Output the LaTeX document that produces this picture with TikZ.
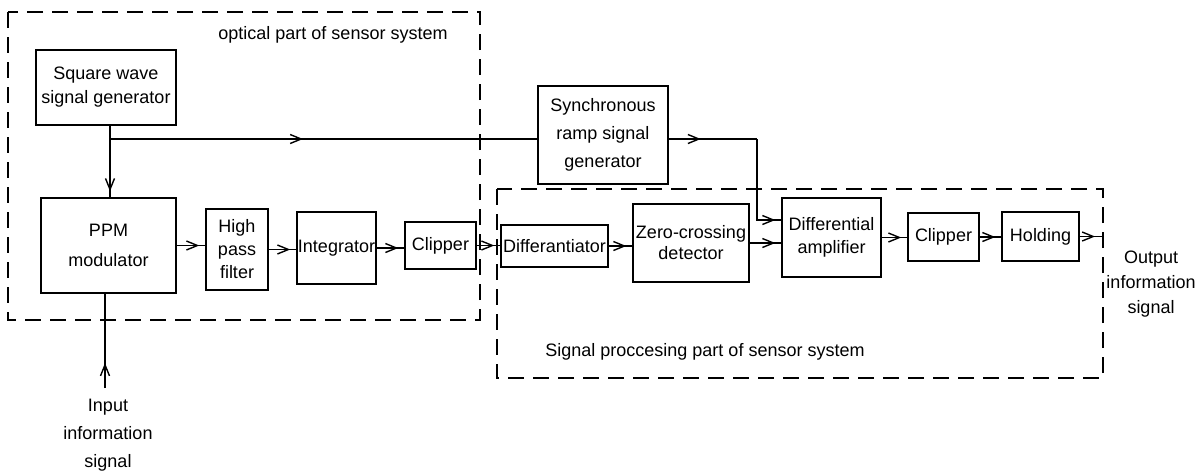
\documentclass[tikz,border=0pt]{standalone}
\usepackage{fontspec}
\setmainfont{Liberation Sans}
\usetikzlibrary{arrows.meta,decorations.markings}
\tikzset{
  txt/.style={font=\fontsize{18}{24}\selectfont},
  blk/.style={draw, line width=1.5pt, inner sep=0pt, align=center, txt},
  ln/.style={line width=1.5pt},
  tipmark/.style={postaction={decorate}, decoration={markings,
     mark=at position #1 with {\arrow{Straight Barb[length=11pt,width=9pt,line width=1.4pt]}}}},
  flow/.style={ln, tipmark=-6pt},
  zone/.style={line width=1.5pt, dash pattern=on 16pt off 9pt},
  lbl/.style={txt, align=center, inner sep=0pt}
}
\begin{document}
\begin{tikzpicture}[x=1pt,y=-1pt]
\useasboundingbox (0,0) rectangle (1198,475);
% zones
\draw[zone] (8,12) rectangle (480,320);
\draw[zone] (497,189) rectangle (1103,378);
\node[lbl] (optlabel) at (333,35) {optical part of sensor system};
\node[lbl] (siglabel) at (705,352) {Signal proccesing part of sensor system};
% blocks
\node[blk, minimum width=140pt, minimum height=75pt] (sq) at (106,87.5) {Square wave\\signal generator};
\node[blk, minimum width=135pt, minimum height=95pt, font=\fontsize{18}{30}\selectfont] (ppm) at (108.5,245.5) {PPM\\modulator};
\node[blk, minimum width=62pt, minimum height=81pt, font=\fontsize{18}{23}\selectfont] (hpf) at (237,249.5) {High\\pass\\filter};
\node[blk, minimum width=79pt, minimum height=72pt] (integ) at (336.5,248) {Integrator};
\node[blk, minimum width=71pt, minimum height=47pt] (clipa) at (440.5,245.5) {Clipper};
\node[blk, minimum width=130pt, minimum height=98pt, font=\fontsize{18}{28}\selectfont] (sync) at (603,135) {Synchronous\\ramp signal\\generator};
\node[blk, minimum width=107pt, minimum height=42pt] (diffr) at (554.5,246) {Differantiator};
\node[blk, minimum width=116pt, minimum height=78pt, font=\fontsize{18}{21}\selectfont] (zc) at (691,243) {Zero-crossing\\detector};
\node[blk, minimum width=99pt, minimum height=79pt, font=\fontsize{18}{23}\selectfont] (da) at (831.5,237.5) {Differential\\amplifier};
\node[blk, minimum width=71pt, minimum height=48pt] (clipb) at (943.5,237) {Clipper};
\node[blk, minimum width=77pt, minimum height=49pt] (hold) at (1040.5,236.5) {Holding};
% input / output labels
\node[lbl, font=\fontsize{18}{28}\selectfont] (inlabel) at (108,435) {Input\\information\\signal};
\node[lbl, font=\fontsize{18}{25}\selectfont] (outlabel) at (1151,284) {Output\\information\\signal};
% connectors
\coordinate (br) at (110,139);
\draw[flow] (br |- sq.south) -- (br |- ppm.north);
\draw[ln, tipmark=193pt] (br) -- (br -| sync.west);
\draw[flow] (ppm.east) -- (ppm.east -| hpf.west);
\draw[flow] (hpf.east) -- (hpf.east -| integ.west);
\draw[flow] (integ.east) -- (integ.east -| clipa.west);
\draw[flow] (clipa.east) -- (clipa.east -| diffr.west);
\draw[flow] (diffr.east) -- (diffr.east -| zc.west);
\coordinate (turna) at (757,139);
\coordinate (turnb) at (757,220);
\draw[ln, tipmark=32pt] (sync.east |- turna) -- (turna);
\draw[flow] (turna) -- (turnb) -- (turnb -| da.west);
\draw[flow] (zc.east) -- (zc.east -| da.west);
\draw[flow] (da.east) -- (da.east -| clipb.west);
\draw[flow] (clipb.east) -- (clipb.east -| hold.west);
\coordinate (outend) at (1103,236);
\draw[ln, tipmark=-8pt] (hold.east) -- (hold.east -| outend);
\coordinate (inend) at (105,388);
\draw[ln, tipmark=25pt] (inend) -- (inend |- ppm.south);
\end{tikzpicture}
\end{document}
